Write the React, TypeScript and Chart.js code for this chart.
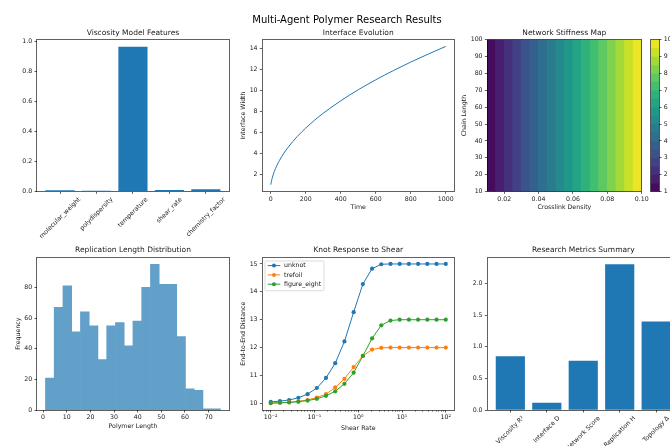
import React, { useEffect, useRef } from 'react';
import { Chart, registerables } from 'chart.js';

Chart.register(...registerables);

// ---------------- Data ----------------
const featureNames = ['molecular_weight', 'polydispersity', 'temperature', 'shear_rate', 'chemistry_factor'];
const featureImportance = [0.009, 0.005, 0.967, 0.011, 0.015];

const timeSteps = [0, 5, 10, 20, 35, 50, 75, 100, 150, 200, 250, 300, 400, 500, 600, 700, 800, 900, 1000];
const interfaceWidth = [1.0, 1.41, 1.73, 2.24, 2.83, 3.32, 4.0, 4.58, 5.57, 6.4, 7.14, 7.81, 9.0, 10.05, 11.0, 11.87, 12.69, 13.45, 14.18];

const crosslinkEdges = [0.01, 0.015, 0.02, 0.025, 0.03, 0.035, 0.04, 0.045, 0.05, 0.055, 0.06, 0.065, 0.07, 0.075, 0.08, 0.085, 0.09, 0.095, 0.1];
const stiffnessLevels = [1, 1.5, 2, 2.5, 3, 3.5, 4, 4.5, 5, 5.5, 6, 6.5, 7, 7.5, 8, 8.5, 9, 9.5, 10];
const chainLengthRange = [10, 100];

const lengthBinEdges = [1.0, 4.7, 8.4, 12.1, 15.8, 19.5, 23.2, 26.9, 30.6, 34.3, 38.0, 41.7, 45.4, 49.1, 52.8, 56.5, 60.2, 63.9, 67.6, 71.3, 75.0];
const lengthCounts = [21, 67, 81, 51, 64, 55, 33, 55, 57, 42, 58, 80, 95, 82, 82, 48, 14, 13, 1, 1];

const shearRate = [0.01, 0.01624, 0.02637, 0.04281, 0.06952, 0.1129, 0.1833, 0.2976, 0.4833, 0.7848, 1.274, 2.069, 3.36, 5.456, 8.859, 14.38, 23.36, 37.93, 61.58, 100];
const unknotDist = [10.05, 10.08, 10.12, 10.2, 10.33, 10.55, 10.91, 11.44, 12.22, 13.27, 14.28, 14.83, 14.99, 15, 15, 15, 15, 15, 15, 15];
const trefoilDist = [10.01, 10.02, 10.04, 10.07, 10.12, 10.21, 10.33, 10.57, 10.88, 11.3, 11.7, 11.93, 11.99, 12, 12, 12, 12, 12, 12, 12];
const figureEightDist = [10.01, 10.02, 10.03, 10.06, 10.1, 10.16, 10.27, 10.43, 10.7, 11.1, 11.7, 12.33, 12.8, 12.97, 13, 13, 13, 13, 13, 13];

const metricNames = ['Viscosity R²', 'Interface D', 'Network Score', 'Replication H', 'Topology Δ'];
const metricValues = [0.85, 0.12, 0.78, 2.3, 1.4];

// tick values / labels
const featureTicks = [0, 0.2, 0.4, 0.6, 0.8, 1.0];
const timeTicks = [0, 200, 400, 600, 800, 1000];
const widthTicks = [2, 4, 6, 8, 10, 12, 14];
const densityTicks = [0.02, 0.04, 0.06, 0.08, 0.1];
const chainTicks = [10, 20, 30, 40, 50, 60, 70, 80, 90, 100];
const colorbarTicks = [1, 2, 3, 4, 5, 6, 7, 8, 9, 10];
const lengthTicks = [0, 10, 20, 30, 40, 50, 60, 70];
const freqTicks = [0, 20, 40, 60, 80];
const shearTicks = [0.01, 0.1, 1, 10, 100];
const shearTickLabels = ['10⁻²', '10⁻¹', '10⁰', '10¹', '10²'];
const distTicks = [10, 11, 12, 13, 14, 15];
const metricTicks = [0, 0.5, 1, 1.5, 2];

// ---------------- Style / layout ----------------
const FONT = "'DejaVu Sans', 'Liberation Sans', sans-serif";
const TXT = '#1a1a1a';
const SPINE = 'rgba(0,0,0,0.62)';
const C0 = '#1f77b4';
const C1 = '#ff7f0e';
const C2 = '#2ca02c';
const W = 700;
const H = 446;
const AX = 30;

const R1 = { t: 39.5, b: 191.6 };
const R2 = { t: 257, b: 410.3 };
const boxes: any = {
  visc: { l: 36.7, r: 229.2, ...R1 },
  iface: { l: 262, r: 454.5, ...R1 },
  heat: { l: 487, r: 641.7, ...R1 },
  cbar: { l: 650.7, r: 659.3, ...R1 },
  hist: { l: 36.7, r: 229.2, ...R2 },
  knot: { l: 262, r: 454.5, ...R2 },
  metric: { l: 487, r: 679.5, ...R2 },
};

const VIRIDIS = ['#440154', '#482475', '#414487', '#355f8d', '#2a788e', '#21918c', '#22a884', '#44bf70', '#7ad151', '#bddf26', '#fde725'];
function viridis(t: number) {
  const x = Math.max(0, Math.min(1, t)) * 10;
  const i = Math.min(9, Math.floor(x));
  const f = x - i;
  const p = (h: string) => [1, 3, 5].map((k) => parseInt(h.substr(k, 2), 16));
  const a = p(VIRIDIS[i]);
  const b = p(VIRIDIS[i + 1]);
  return `rgb(${a.map((v, k) => Math.round(v + (b[k] - v) * f)).join(',')})`;
}

const crisp = (p: number) => Math.round(p - 0.5) + 0.5;

function padFor(box: any, hasLeft = true, hasBottom = true, hasRight = false) {
  return {
    left: box.l - (hasLeft ? AX : 0),
    right: W - box.r - (hasRight ? AX : 0),
    top: box.t,
    bottom: H - box.b - (hasBottom ? AX : 0),
  };
}

const gridOpts = () => ({
  display: true,
  drawOnChartArea: false,
  drawTicks: true,
  tickLength: 2.2,
  color: SPINE,
  lineWidth: 1,
  offset: false,
});
const tickFont = () => ({ family: FONT, size: 6.25, lineHeight: 1.0 });
const setTicks = (vals: number[]) => (s: any) => {
  s.ticks = vals.map((v) => ({ value: v }));
};

function xScale(type: string, min: number, max: number, vals: number[], fmt: any) {
  return {
    type,
    position: 'bottom',
    min,
    max,
    offset: false,
    bounds: 'data',
    grid: gridOpts(),
    border: { display: false },
    ticks: { font: tickFont(), color: TXT, padding: 2.2, maxRotation: 0, minRotation: 0, autoSkip: false, callback: fmt },
    afterBuildTicks: setTicks(vals),
    afterFit: (s: any) => {
      s.height = AX;
    },
  };
}

function yScale(min: number, max: number, vals: number[], fmt: any, position = 'left') {
  return {
    type: 'linear',
    position,
    min,
    max,
    offset: false,
    bounds: 'data',
    grid: gridOpts(),
    border: { display: false },
    ticks: { font: tickFont(), color: TXT, padding: 2.2, autoSkip: false, callback: fmt },
    afterBuildTicks: setTicks(vals),
    afterFit: (s: any) => {
      s.width = AX;
    },
  };
}

function baseOptions(padding: any, scales: any, extra: any = {}) {
  return {
    responsive: false,
    animation: false,
    devicePixelRatio: 1,
    events: [],
    layout: { padding },
    plugins: { legend: { display: false }, tooltip: { enabled: false }, title: { display: false } },
    scales,
    ...extra,
  };
}

function decor(d: any) {
  return {
    id: 'decor',
    afterDatasetsDraw(chart: any) {
      const ctx = chart.ctx;
      const a = chart.chartArea;
      ctx.save();
      if (d.logMinor) {
        const sx = chart.scales.x;
        ctx.strokeStyle = SPINE;
        ctx.lineWidth = 0.8;
        for (let e = -3; e <= 2; e++) {
          for (let m = 2; m <= 9; m++) {
            const v = m * Math.pow(10, e);
            if (v < sx.min || v > sx.max) continue;
            const px = crisp(sx.getPixelForValue(v));
            ctx.beginPath();
            ctx.moveTo(px, a.bottom);
            ctx.lineTo(px, a.bottom + 1.4);
            ctx.stroke();
          }
        }
      }
      // spines
      ctx.strokeStyle = SPINE;
      ctx.lineWidth = 1;
      const l = crisp(a.left);
      const r = crisp(a.right);
      const t = crisp(a.top);
      const b = crisp(a.bottom);
      ctx.strokeRect(l, t, r - l, b - t);

      ctx.fillStyle = TXT;
      if (d.title) {
        ctx.font = `7.5px ${FONT}`;
        ctx.textAlign = 'center';
        ctx.textBaseline = 'alphabetic';
        ctx.fillText(d.title, (a.left + a.right) / 2, a.top - 4.6);
      }
      if (d.suptitle) {
        ctx.font = `10px ${FONT}`;
        ctx.textAlign = 'center';
        ctx.textBaseline = 'alphabetic';
        ctx.fillStyle = '#000';
        ctx.fillText(d.suptitle, 347, 22.5);
        ctx.fillStyle = TXT;
      }
      ctx.font = `6.25px ${FONT}`;
      if (d.xlabel) {
        ctx.textAlign = 'center';
        ctx.textBaseline = 'middle';
        ctx.fillText(d.xlabel, (a.left + a.right) / 2, a.bottom + d.xlabelOff);
      }
      if (d.ylabel) {
        ctx.save();
        ctx.translate(a.left - d.ylabelOff, (a.top + a.bottom) / 2);
        ctx.rotate(-Math.PI / 2);
        ctx.textAlign = 'center';
        ctx.textBaseline = 'middle';
        ctx.fillText(d.ylabel, 0, 0);
        ctx.restore();
      }
      if (d.rotLabels) {
        const sx = chart.scales.x;
        d.rotLabels.forEach((lab: string, i: number) => {
          const x = sx.getPixelForValue(i);
          const w = ctx.measureText(lab).width;
          const h = 7.3;
          const D = (w + h) / Math.SQRT2;
          ctx.save();
          ctx.translate(x, a.bottom + 4.4 + D / 2);
          ctx.rotate(-Math.PI / 4);
          ctx.textAlign = 'center';
          ctx.textBaseline = 'middle';
          ctx.fillText(lab, 0, 0);
          ctx.restore();
        });
      }
      if (d.legend) {
        const x0 = a.left + 3;
        const y0 = a.top + 4;
        ctx.beginPath();
        ctx.roundRect(x0, y0, 59, 29.7, 1.3);
        ctx.fillStyle = 'rgba(255,255,255,0.8)';
        ctx.fill();
        ctx.strokeStyle = '#cccccc';
        ctx.lineWidth = 0.7;
        ctx.stroke();
        d.legend.forEach((it: any, i: number) => {
          const y = a.top + 8.6 + 9.3 * i;
          ctx.strokeStyle = it.color;
          ctx.lineWidth = 1;
          ctx.beginPath();
          ctx.moveTo(a.left + 5.7, y);
          ctx.lineTo(a.left + 18.2, y);
          ctx.stroke();
          ctx.fillStyle = it.color;
          ctx.beginPath();
          ctx.arc(a.left + 11.95, y, 2, 0, Math.PI * 2);
          ctx.fill();
          ctx.fillStyle = TXT;
          ctx.textAlign = 'left';
          ctx.textBaseline = 'middle';
          ctx.fillText(it.label, a.left + 22, y);
        });
      }
      ctx.restore();
    },
  };
}

export default function App() {
  const refs = useRef<any[]>([]);

  useEffect(() => {
    Chart.defaults.font.family = FONT;
    const cs: any[] = [];
    const mk = (i: number, cfg: any) => {
      cs.push(new Chart(refs.current[i], cfg));
    };

    // 1. Viscosity Model Features
    mk(0, {
      type: 'bar',
      data: {
        datasets: [
          {
            data: featureImportance.map((v, i) => ({ x: i, y: v })),
            backgroundColor: C0,
            barPercentage: 0.8,
            categoryPercentage: 1,
            borderWidth: 0,
          },
        ],
      },
      options: baseOptions(padFor(boxes.visc), {
        x: xScale('linear', -0.64, 4.64, featureNames.map((_, i) => i), () => ''),
        y: yScale(0, 1.015, featureTicks, (v: number) => v.toFixed(1)),
      }),
      plugins: [decor({ title: 'Viscosity Model Features', rotLabels: featureNames, suptitle: 'Multi-Agent Polymer Research Results' })],
    });

    // 2. Interface Evolution
    mk(1, {
      type: 'line',
      data: {
        datasets: [
          {
            data: timeSteps.map((t, i) => ({ x: t, y: interfaceWidth[i] })),
            borderColor: C0,
            borderWidth: 1,
            pointRadius: 0,
            cubicInterpolationMode: 'monotone',
            fill: false,
          },
        ],
      },
      options: baseOptions(padFor(boxes.iface), {
        x: xScale('linear', -50, 1050, timeTicks, (v: number) => String(v)),
        y: yScale(0.341, 14.84, widthTicks, (v: number) => String(v)),
      }),
      plugins: [decor({ title: 'Interface Evolution', xlabel: 'Time', xlabelOff: 16.1, ylabel: 'Interface Width', ylabelOff: 18.7 })],
    });

    // 3. Network Stiffness Map (filled contour bands)
    const lo = stiffnessLevels[0];
    const hi = stiffnessLevels[stiffnessLevels.length - 1];
    const bandColors = stiffnessLevels.slice(0, -1).map((lv, i) => viridis(((lv + stiffnessLevels[i + 1]) / 2 - lo) / (hi - lo)));
    mk(2, {
      type: 'bar',
      data: {
        datasets: [
          {
            data: crosslinkEdges.slice(0, -1).map((e, i) => ({ x: (e + crosslinkEdges[i + 1]) / 2, y: [...chainLengthRange] })),
            backgroundColor: bandColors,
            barPercentage: 1,
            categoryPercentage: 1,
            borderWidth: 0,
          },
        ],
      },
      options: baseOptions(padFor(boxes.heat), {
        x: xScale('linear', crosslinkEdges[0], crosslinkEdges[crosslinkEdges.length - 1], densityTicks, (v: number) => v.toFixed(2)),
        y: yScale(chainLengthRange[0], chainLengthRange[1], chainTicks, (v: number) => String(v)),
      }),
      plugins: [decor({ title: 'Network Stiffness Map', xlabel: 'Crosslink Density', xlabelOff: 16.1, ylabel: 'Chain Length', ylabelOff: 23 })],
    });

    // 3b. Colorbar
    mk(3, {
      type: 'bar',
      data: {
        datasets: [
          {
            data: stiffnessLevels.slice(0, -1).map((lv, i) => ({ y: (lv + stiffnessLevels[i + 1]) / 2, x: [0, 1] })),
            backgroundColor: bandColors,
            barPercentage: 1,
            categoryPercentage: 1,
            borderWidth: 0,
          },
        ],
      },
      options: baseOptions(
        padFor(boxes.cbar, false, false, true),
        {
          y: yScale(lo, hi, colorbarTicks, (v: number) => String(v), 'right'),
          x: { type: 'linear', display: false, min: 0, max: 1 },
        },
        { indexAxis: 'y' }
      ),
      plugins: [decor({})],
    });

    // 4. Replication Length Distribution
    mk(4, {
      type: 'bar',
      data: {
        datasets: [
          {
            data: lengthCounts.map((c, i) => ({ x: (lengthBinEdges[i] + lengthBinEdges[i + 1]) / 2, y: c })),
            backgroundColor: '#62a0ca',
            barPercentage: 1,
            categoryPercentage: 1,
            borderWidth: 0,
          },
        ],
      },
      options: baseOptions(padFor(boxes.hist), {
        x: xScale('linear', -2.7, 78.7, lengthTicks, (v: number) => String(v)),
        y: yScale(0, 99.75, freqTicks, (v: number) => String(v)),
      }),
      plugins: [decor({ title: 'Replication Length Distribution', xlabel: 'Polymer Length', xlabelOff: 15.7, ylabel: 'Frequency', ylabelOff: 18.4 })],
    });

    // 5. Knot Response to Shear
    const knotSeries = [
      { label: 'unknot', values: unknotDist, color: C0 },
      { label: 'trefoil', values: trefoilDist, color: C1 },
      { label: 'figure_eight', values: figureEightDist, color: C2 },
    ];
    mk(5, {
      type: 'line',
      data: {
        datasets: knotSeries.map((s, k) => ({
          label: s.label,
          data: shearRate.map((x, i) => ({ x, y: s.values[i] })),
          borderColor: s.color,
          backgroundColor: s.color,
          pointBackgroundColor: s.color,
          borderWidth: 1,
          pointRadius: 2.1,
          pointBorderWidth: 0,
          tension: 0,
          fill: false,
          order: knotSeries.length - k,
        })),
      },
      options: baseOptions(padFor(boxes.knot), {
        x: xScale('logarithmic', Math.pow(10, -2.2), Math.pow(10, 2.2), shearTicks, (v: number, i: number) => shearTickLabels[i]),
        y: yScale(9.75, 15.25, distTicks, (v: number) => String(v)),
      }),
      plugins: [
        decor({
          title: 'Knot Response to Shear',
          xlabel: 'Shear Rate',
          xlabelOff: 18,
          ylabel: 'End-to-End Distance',
          ylabelOff: 18.7,
          legend: knotSeries,
          logMinor: true,
        }),
      ],
    });

    // 6. Research Metrics Summary
    mk(6, {
      type: 'bar',
      data: {
        datasets: [
          {
            data: metricValues.map((v, i) => ({ x: i, y: v })),
            backgroundColor: C0,
            barPercentage: 0.8,
            categoryPercentage: 1,
            borderWidth: 0,
          },
        ],
      },
      options: baseOptions(padFor(boxes.metric), {
        x: xScale('linear', -0.64, 4.64, metricNames.map((_, i) => i), () => ''),
        y: yScale(0, 2.415, metricTicks, (v: number) => v.toFixed(1)),
      }),
      plugins: [decor({ title: 'Research Metrics Summary', rotLabels: metricNames })],
    });

    return () => cs.forEach((c) => c.destroy());
  }, []);

  return (
    <div
      style={{
        position: 'absolute',
        left: 0,
        top: 0,
        width: 670,
        height: 446,
        overflow: 'hidden',
        background: '#ffffff',
      }}
    >
      {[0, 1, 2, 3, 4, 5, 6].map((i) => (
        <canvas
          key={i}
          ref={(el) => {
            refs.current[i] = el;
          }}
          width={W}
          height={H}
          style={{ position: 'absolute', left: 0, top: 0, width: W, height: H }}
        />
      ))}
    </div>
  );
}
